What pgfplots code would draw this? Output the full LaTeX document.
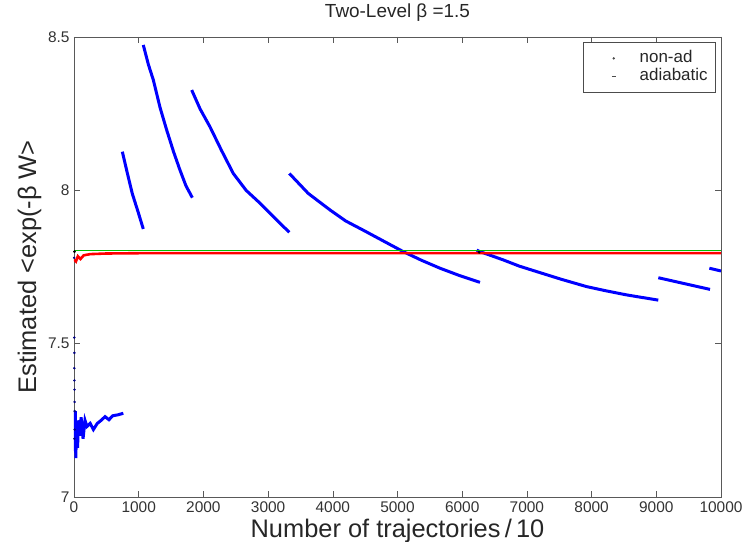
\documentclass[border=0pt]{standalone}
\usepackage{fontspec}
\setmainfont{Liberation Sans}
\usepackage{pgfplots}
\pgfplotsset{compat=1.18}
\begin{document}
\begin{tikzpicture}
\useasboundingbox (-74bp,-45bp) rectangle (673bp,497bp);
\begin{axis}[
  at={(0,0)}, anchor=south west,
  scale only axis, width=647bp, height=460bp,
  xmin=0, xmax=10000, ymin=7, ymax=8.5,
  xtick={0,1000,...,10000}, ytick={7,7.5,8,8.5},
  scaled x ticks=false,
  /pgf/number format/assume math mode=true,
  /pgf/number format/1000 sep={},
  tick align=inside, tick pos=both, major tick length=6bp,
  axis line style={black!65, line width=0.6bp},
  every tick/.style={black!65, line width=0.6bp},
  tick label style={font=\fontsize{15.5}{18}\selectfont, text=black!80},
  xticklabel style={yshift=-1bp},
  yticklabel style={xshift=-1bp},
  title={Two-Level β =1.5},
  title style={font=\fontsize{19}{22}\selectfont, at={(axis description cs:0.5,1)}, anchor=base, yshift=14bp, text=black!85},
  xlabel={Number of trajectories\,/\,10},
  ylabel={Estimated <exp(-β W>},
  label style={font=\fontsize{25.5}{30}\selectfont, text=black!85},
  xlabel style={at={(axis description cs:0.5,-0.087)}, anchor=base},
  ylabel style={at={(axis description cs:-0.0587,0.5)}, anchor=base},
  legend style={at={(0.992,0.989)}, anchor=north east, draw=black!70, line width=0.6bp,
    font=\fontsize{17}{20}\selectfont, row sep=0bp, inner xsep=6bp, inner ysep=7bp,
    nodes={inner ysep=1bp, text height=12bp, text depth=4bp},
    text=black!85},
  legend cell align=left,
]
% non-adiabatic estimate (blue)
\addplot[blue, line width=3bp, forget plot] coordinates {
 (5,7.25) (12,7.15) (20,7.28) (28,7.127) (40,7.24) (55,7.16) (70,7.25) (90,7.20) (110,7.26) (140,7.19) (170,7.25) (200,7.23) (250,7.24) (300,7.22) (360,7.24) (420,7.25) (480,7.262) (540,7.252) (600,7.265) (680,7.268) (762,7.273)};
\addplot[blue!50!black, only marks, mark=*, mark size=1bp, forget plot] coordinates {
 (3,7.78) (4,7.52) (6,7.47) (5,7.42) (7,7.38) (8,7.35) (9,7.31) (10,7.28) (11,7.22) (6,7.19)};
\addplot[blue, line width=3bp, forget plot] coordinates {
 (747,8.126) (820,8.06) (900,7.99) (990,7.93) (1071,7.874)};
\addplot[blue, line width=3bp, forget plot] coordinates {
 (1071,8.474) (1150,8.41) (1226,8.360) (1330,8.27) (1432,8.197) (1540,8.125) (1638,8.066) (1730,8.015) (1829,7.976)};
\addplot[blue, line width=3bp, forget plot] coordinates {
 (1819,8.327) (1950,8.265) (2102,8.207) (2280,8.13) (2462,8.055) (2660,8.00) (2875,7.958) (3100,7.91) (3328,7.863)};
\addplot[blue, line width=3bp, forget plot] coordinates {
 (3328,8.055) (3620,7.99) (3957,7.936) (4200,7.90) (4471,7.870) (4780,7.835) (5090,7.800) (5370,7.772) (5657,7.746) (5960,7.722) (6275,7.700)};
\addplot[blue, line width=3bp, forget plot] coordinates {
 (6224,7.805) (6275,7.800) (6450,7.787) (6636,7.773) (6880,7.753) (7151,7.735) (7530,7.710) (7924,7.686) (8230,7.672) (8542,7.659) (8800,7.650) (9031,7.642)};
\addplot[blue, line width=3bp, forget plot] coordinates {
 (9031,7.715) (9430,7.696) (9830,7.677)};
\addplot[blue, line width=3bp, forget plot] coordinates {
 (9820,7.746) (10000,7.737)};
% adiabatic estimate (red)
\addplot[red, line width=2.6bp, forget plot] coordinates {
 (0,7.775) (30,7.768) (60,7.785) (100,7.776) (150,7.788) (250,7.792) (500,7.794) (1000,7.795) (3000,7.795) (6000,7.795) (10000,7.795)};
% exact value (green)
\addplot[green!75!black, line width=1.4bp, forget plot] coordinates {
 (0,7.803) (10000,7.803)};
\addplot[black, only marks, mark=*, mark size=1.2bp, forget plot] coordinates {(6260,7.798) (8,7.800)};
\addlegendimage{legend image code/.code={\path[draw=none,fill=none] (0,0) -- (48bp,0); \fill[black!70] (24bp,0) circle (0.9bp);}}
\addlegendentry{non-ad}
\addlegendimage{legend image code/.code={\path[draw=none,fill=none] (0,0) -- (48bp,0); \draw[black!70, line width=0.9bp] (22bp,0) -- (26bp,0);}}
\addlegendentry{adiabatic}
\end{axis}
\end{tikzpicture}
\end{document}
